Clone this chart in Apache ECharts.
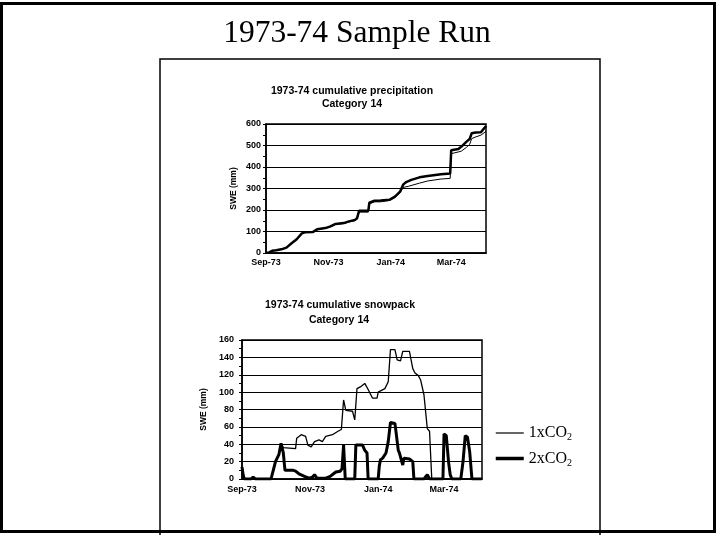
<!DOCTYPE html>
<html>
<head>
<meta charset="utf-8">
<script src="https://cdn.jsdelivr.net/npm/echarts@6/dist/echarts.min.js"></script>
<style>
html,body{margin:0;padding:0;background:#fff;}
#c{width:717px;height:535px;}
</style>
</head>
<body>
<div id="c"></div>
<script>
// x axis: days since 1 Sep 1973
var xTickDays = [0, 61, 122, 181];
var xTickLabels = ['Sep-73', 'Nov-73', 'Jan-74', 'Mar-74'];
var seriesNames = ['1xCO2', '2xCO2'];

// Cumulative precipitation (mm), [day, value]
var precip1x = [[0,0],[3,3],[6,10],[10,13],[15,17],[20,25],[25,45],[30,64],[35,91],[38,96],[46,98],[50,110],[58,115],[63,122],[68,133],[76,137],[81,144],[87,150],[89,158],[91,190],[100,190],[101,228],[106,238],[112,238],[121,245],[126,258],[131,280],[134,305],[139,310],[150,325],[158,335],[171,344],[180,347],[181,462],[188,470],[191,474],[196,492],[199,505],[201,532],[205,540],[210,548],[215,566]];
var precip2x = [[0,0],[3,3],[6,10],[10,13],[15,17],[20,25],[25,45],[30,64],[35,91],[38,96],[46,98],[50,110],[58,116],[63,124],[68,135],[76,139],[81,147],[87,154],[89,162],[91,197],[100,197],[101,234],[106,243],[112,244],[121,248],[126,262],[131,285],[134,318],[137,330],[142,340],[150,352],[158,358],[171,366],[180,370],[181,478],[188,484],[191,495],[196,518],[199,530],[201,557],[205,560],[210,562],[215,591]];

// Snowpack SWE (mm), [day, value]
var snow1x = [[0,14],[1,5],[2,0],[8,0],[10,2],[12,0],[26,0],[28,10],[30,20],[33,28],[35,41],[37,36],[38,35],[48,35],[49,47],[53,51],[57,49],[59,39],[62,37],[65,43],[69,45],[72,43],[75,49],[81,51],[86,55],[89,57],[91,91],[93,79],[99,78],[101,68],[103,104],[106,106],[110,110],[113,103],[117,93],[121,93],[122,100],[128,104],[131,112],[133,149],[137,149],[139,137],[142,136],[144,147],[150,147],[153,127],[155,122],[158,119],[160,114],[163,97],[166,58],[168,55],[170,0],[215,0]];
var snow2x = [[0,14],[1,5],[2,0],[8,0],[10,2],[12,0],[26,0],[28,10],[30,20],[33,28],[35,41],[37,30],[38.5,10],[46,10],[48,9],[51,6],[56,3],[60,1],[63,2],[65,5],[67,1],[75,1],[79,3],[84,8],[88,9],[89.6,12],[91,39],[92.5,0],[101,0],[102,39],[108,39],[110,33],[112,30],[113,0],[122,0],[123,15],[124,22],[126,24],[129,30],[131,43],[133,65],[137,64],[138,54],[140,33],[141,30],[144,16],[145,24],[150,23],[153,20],[154,0],[163,0],[166,5],[168,0],[180,0],[181,52],[183,50],[185,20],[186.5,5],[188,0],[196,0],[198,20],[200,50],[202,48],[204,31],[206,0],[215,0]];

var SANS = 'Liberation Sans, Arial, sans-serif';
var SERIF = 'Liberation Serif, Times New Roman, serif';

function xAxisCfg(gi, margin) {
  return {
    type: 'value', gridIndex: gi, min: 0, max: 215,
    axisLine: {show: true, lineStyle: {color: '#000', width: 1.5}},
    axisTick: {show: false},
    splitLine: {show: false},
    axisLabel: {
      customValues: xTickDays,
      margin: margin,
      color: '#000', fontFamily: SANS, fontWeight: 'bold', fontSize: 9,
      formatter: function (v) { var i = xTickDays.indexOf(v); return i >= 0 ? xTickLabels[i] : ''; }
    }
  };
}
function yAxisCfg(gi, max, interval, nameGap, margin) {
  return {
    type: 'value', gridIndex: gi, min: 0, max: max, interval: interval,
    name: 'SWE (mm)', nameLocation: 'middle', nameGap: nameGap, nameRotate: 90,
    nameTextStyle: {color: '#000', fontFamily: SANS, fontWeight: 'bold', fontSize: 8.5},
    axisLine: {show: true, lineStyle: {color: '#000', width: 1.5}},
    axisTick: {show: true, length: 3, lineStyle: {color: '#000'}},
    minorTick: {show: true, splitNumber: 2, length: 3, lineStyle: {color: '#000'}},
    splitLine: {show: true, lineStyle: {color: '#000', width: 1}},
    axisLabel: {margin: margin, color: '#000', fontFamily: SANS, fontWeight: 'bold', fontSize: 9}
  };
}
function lineSeries(name, data, xi, width) {
  return {
    name: name, type: 'line', data: data, xAxisIndex: xi, yAxisIndex: xi,
    symbol: 'none', showSymbol: false, animation: false,
    lineStyle: {color: '#000', width: width}, itemStyle: {color: '#000'}
  };
}

var chart = echarts.init(document.getElementById('c'));
chart.setOption({
  backgroundColor: '#fff',
  animation: false,
  grid: [
    {left: 266, top: 124, width: 220, height: 129, show: true, borderColor: '#000', borderWidth: 1.5, backgroundColor: 'transparent'},
    {left: 242, top: 340, width: 240, height: 139, show: true, borderColor: '#000', borderWidth: 1.5, backgroundColor: 'transparent'}
  ],
  xAxis: [xAxisCfg(0, 5), xAxisCfg(1, 6)],
  yAxis: [yAxisCfg(0, 600, 100, 28, 5), yAxisCfg(1, 160, 20, 34, 8)],
  legend: {
    data: [
      {name: seriesNames[0], lineStyle: {width: 1.2, color: '#000'}},
      {name: seriesNames[1], lineStyle: {width: 3.5, color: '#000'}}
    ],
    orient: 'vertical', left: 494, top: 425, padding: 0,
    itemWidth: 28, itemHeight: 14, itemGap: 8, itemStyle: {opacity: 0},
    textStyle: {
      color: '#000', fontFamily: SERIF, fontSize: 16,
      rich: {s: {fontFamily: SERIF, fontSize: 10, padding: [9, 0, 0, 0], color: '#000'}}
    },
    formatter: function (n) { return n.replace('CO2', 'CO{s|2}'); }
  },
  graphic: [
    {type: 'rect', shape: {x: 1.5, y: 3.5, width: 713, height: 528}, style: {fill: 'none', stroke: '#000', lineWidth: 3}, silent: true},
    {type: 'rect', shape: {x: 160, y: 59, width: 440, height: 480}, style: {fill: 'none', stroke: '#000', lineWidth: 1.5}, silent: true},
    {type: 'text', x: 357, y: 34, style: {text: '1973-74 Sample Run', font: '31.5px ' + SERIF, fill: '#000', textAlign: 'center', textVerticalAlign: 'middle'}},
    {type: 'text', x: 352, y: 91, style: {text: '1973-74 cumulative precipitation', font: 'bold 10.5px ' + SANS, fill: '#000', textAlign: 'center', textVerticalAlign: 'middle'}},
    {type: 'text', x: 352, y: 104, style: {text: 'Category 14', font: 'bold 10.5px ' + SANS, fill: '#000', textAlign: 'center', textVerticalAlign: 'middle'}},
    {type: 'text', x: 340, y: 305, style: {text: '1973-74 cumulative snowpack', font: 'bold 10.5px ' + SANS, fill: '#000', textAlign: 'center', textVerticalAlign: 'middle'}},
    {type: 'text', x: 339, y: 320, style: {text: 'Category 14', font: 'bold 10.5px ' + SANS, fill: '#000', textAlign: 'center', textVerticalAlign: 'middle'}}
  ],
  series: [
    lineSeries('2xCO2', precip2x, 0, 2.5),
    lineSeries('1xCO2', precip1x, 0, 1),
    lineSeries('2xCO2', snow2x, 1, 3),
    lineSeries('1xCO2', snow1x, 1, 1.3)
  ]
});
</script>
</body>
</html>
